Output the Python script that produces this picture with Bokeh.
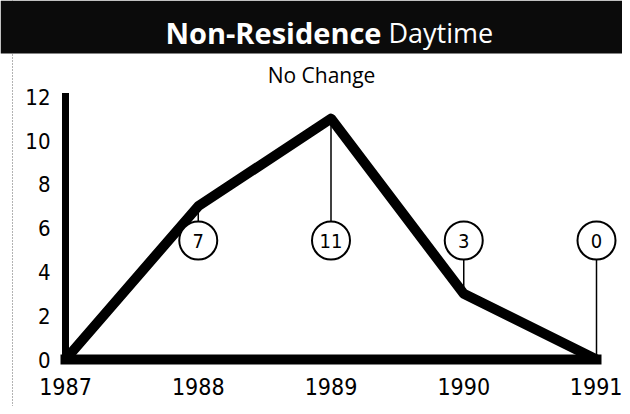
from bokeh.plotting import figure
from bokeh.models import Range1d, FixedTicker, Label, BoxAnnotation, Span
from bokeh.core.properties import value
from bokeh.embed import file_html
from bokeh.resources import INLINE

# ---- data ----
years = [1987, 1988, 1989, 1990, 1991]
counts = [0, 7, 11, 3, 0]
callout_years = [1988, 1989, 1990, 1991]
callout_counts = [7, 11, 3, 0]
y_ticks = [0, 2, 4, 6, 8, 10, 12]
x_ticks = [1987, 1988, 1989, 1990, 1991]
title_bold = "Non-Residence"
title_rest = "Daytime"
subtitle = "No Change"

NUM_FONT = "DejaVu Sans Condensed, Liberation Sans, sans-serif"

# ---- layout (pixels) ----
W, H = 622, 406
PX_X0 = 65.0        # pixel column of first year
PX_PER_YEAR = 132.75
PX_Y0 = 359.0       # pixel row of value 0 (from top)
PX_PER_UNIT = 21.9

x_start = x_ticks[0] - PX_X0 / PX_PER_YEAR
x_end = x_start + W / PX_PER_YEAR
y_end = PX_Y0 / PX_PER_UNIT
y_start = y_end - H / PX_PER_UNIT


def X(px):
    return x_start + px / PX_PER_YEAR


def Y(py):
    return y_end - py / PX_PER_UNIT


CALLOUT_Y = Y(240)

p = figure(width=W, height=H, x_range=Range1d(x_start, x_end),
           y_range=Range1d(y_start, y_end), output_backend="svg",
           toolbar_location=None, min_border=0, outline_line_color=None,
           background_fill_color="white", border_fill_color="white")
p.grid.visible = False

# axes
p.xaxis.fixed_location = 0
p.yaxis.fixed_location = x_ticks[0]
p.xaxis.bounds = (x_ticks[0], x_ticks[-1])
p.yaxis.bounds = (y_ticks[0], y_ticks[-1])
p.xaxis.ticker = FixedTicker(ticks=x_ticks)
p.yaxis.ticker = FixedTicker(ticks=y_ticks)
for ax in (p.xaxis, p.yaxis):
    ax.axis_line_color = "black"
    ax.axis_line_cap = "square"
    ax.major_tick_line_color = None
    ax.minor_tick_line_color = None
    ax.major_label_text_font = NUM_FONT
    ax.major_label_text_color = "black"
p.xaxis.axis_line_width = 10
p.yaxis.axis_line_width = 7
p.xaxis.major_label_text_font_size = "23px"
p.yaxis.major_label_text_font_size = "22px"
p.xaxis.major_label_standoff = 12
p.yaxis.major_label_standoff = 9

# left rule
p.add_layout(Span(location=X(12), dimension="height", line_color="#666666",
                  line_width=1, line_dash="1 2"))

# banner
p.add_layout(BoxAnnotation(left=x_start, right=x_end, top=y_end, bottom=Y(53),
                           fill_color="#0b0b0b", fill_alpha=1.0, line_color=None))
p.add_layout(Label(x=X(381), y=Y(32), text=title_bold, text_align="right",
                   text_baseline="alphabetic", text_color="white",
                   text_font="Open Sans", text_font_style="bold",
                   text_font_size="29px"))
p.add_layout(Label(x=X(388), y=Y(32), text=title_rest, text_align="left",
                   text_baseline="alphabetic", text_color="white",
                   text_font="Open Sans", text_font_size="27px"))
p.add_layout(Label(x=X(321), y=Y(74), text=subtitle, text_align="center",
                   text_baseline="alphabetic", text_color="black",
                   text_font="Open Sans", text_font_size="21px"))

# data line
p.line(years, counts, line_width=10, line_color="black", line_join="round")

# callouts
p.segment(x0=callout_years, y0=callout_counts, x1=callout_years,
          y1=[CALLOUT_Y] * len(callout_years), line_color="black", line_width=1.5)
p.scatter(callout_years, [CALLOUT_Y] * len(callout_years), marker="circle",
          size=38, fill_color="white", line_color="black", line_width=2)
p.text(callout_years, [CALLOUT_Y] * len(callout_years),
       text=[str(c) for c in callout_counts], text_align="center",
       text_baseline="middle", text_font=value(NUM_FONT),
       text_font_size="20px", text_color="black")

open("out.html", "w").write(file_html(p, INLINE))
